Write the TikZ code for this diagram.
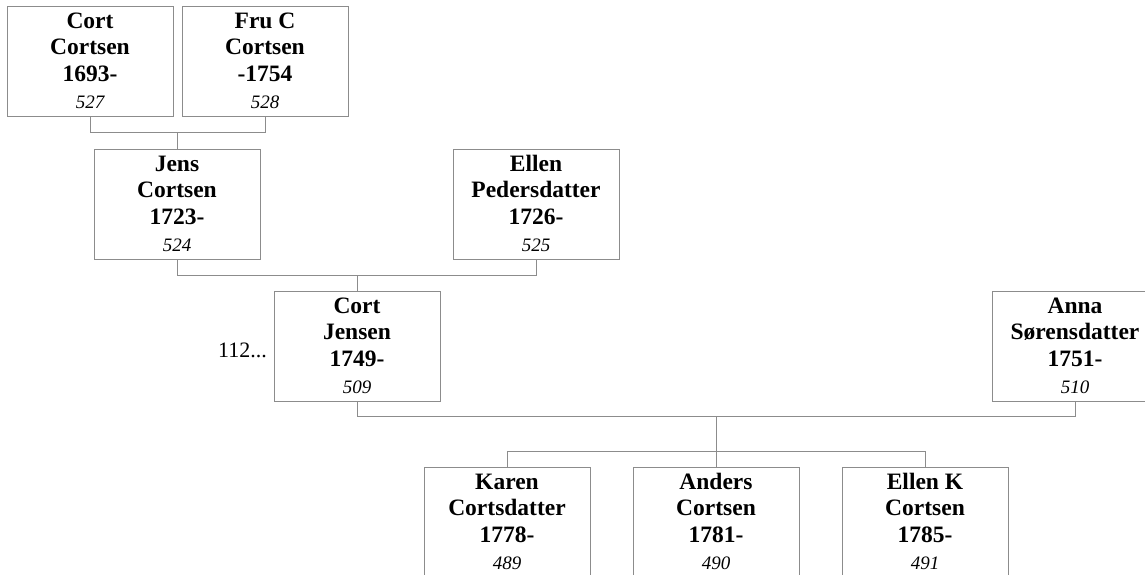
\documentclass[tikz,border=0pt]{standalone}
\usepackage{fontspec}
\setmainfont{Liberation Serif}
\usetikzlibrary{calc}
\definecolor{linegray}{RGB}{140,140,140}
\tikzset{
  person/.style={draw=linegray, line width=1pt, minimum width=166pt, minimum height=110pt, inner sep=0pt, outer sep=0pt, anchor=north west},
  nm/.style={anchor=base, inner sep=0pt, font=\fontsize{23.5}{27}\selectfont\bfseries},
  idn/.style={anchor=base, inner sep=0pt, font=\fontsize{19}{22}\selectfont\itshape},
  link/.style={draw=linegray, line width=1pt},
  more/.style={anchor=base east, inner sep=0pt, font=\fontsize{22}{26}\selectfont},
}
\newcommand\pbox[7]{%
  \node[person] (#1) at (#2,#3) {};
  \node[nm] (#1a) at ($(#1.north)+(0,22)$) {#4};
  \node[nm] (#1b) at ($(#1.north)+(0,48)$) {#5};
  \node[nm] (#1c) at ($(#1.north)+(0,75)$) {#6};
  \node[idn] (#1d) at ($(#1.north)+(0,102)$) {#7};
}
\begin{document}
\begin{tikzpicture}[x=1pt,y=-1pt]
\clip (0,0) rectangle (1145,575);
\useasboundingbox (0,0) rectangle (1145,575);
\pbox{cc}{7}{7}{Cort}{Cortsen}{1693-}{527}
\pbox{fc}{182}{7}{Fru C}{Cortsen}{-1754}{528}
\pbox{jc}{94}{149}{Jens}{Cortsen}{1723-}{524}
\pbox{ep}{453}{149}{Ellen}{Pedersdatter}{1726-}{525}
\pbox{cj}{274}{291}{Cort}{Jensen}{1749-}{509}
\pbox{as}{992}{291}{Anna}{Sørensdatter}{1751-}{510}
\pbox{kc}{424}{467}{Karen}{Cortsdatter}{1778-}{489}
\pbox{ac}{633}{467}{Anders}{Cortsen}{1781-}{490}
\pbox{ek}{842}{467}{Ellen K}{Cortsen}{1785-}{491}
\node[more] (more) at (267,357) {112...};
% generation 1 -> Jens
\draw[link] (cc.south) -- ++(0,16) coordinate (m1) -| (fc.south);
\draw[link] (jc.north) -- (jc.north |- m1);
% generation 2 -> Cort Jensen
\draw[link] (jc.south) -- ++(0,16) coordinate (m2) -| (ep.south);
\draw[link] (cj.north) -- (cj.north |- m2);
% Cort Jensen + Anna -> children
\draw[link] (cj.south) -- ++(0,15) coordinate (m3) -| (as.south);
\draw[link] (kc.north) -- ++(0,-16) coordinate (m4) -| (ek.north);
\draw[link] (ac.north) -- (ac.north |- m3);
\end{tikzpicture}
\end{document}
